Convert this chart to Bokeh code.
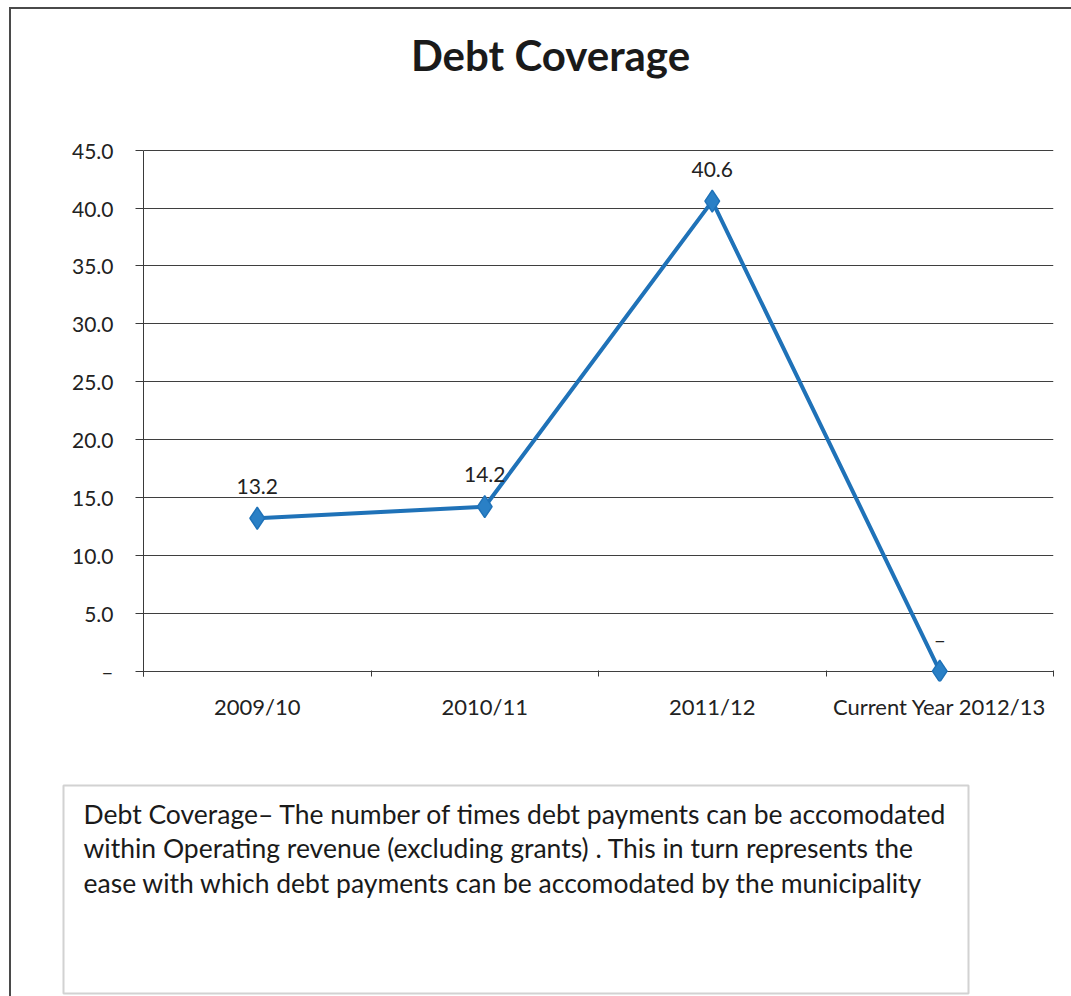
from bokeh.plotting import figure
from bokeh.layouts import column
from bokeh.models import Range1d, FixedTicker, Label, LabelSet, ColumnDataSource
from bokeh.core.properties import value
from bokeh.embed import file_html
from bokeh.resources import INLINE

# ---- data ----
categories = ["2009/10", "2010/11", "2011/12", "Current Year 2012/13"]
debt_coverage = [13.2, 14.2, 40.6, 0.0]
point_labels = ["13.2", "14.2", "40.6", "\u2013"]
y_ticks = [0, 5, 10, 15, 20, 25, 30, 35, 40, 45]
y_tick_labels = ["\u2013", "5.0", "10.0", "15.0", "20.0", "25.0", "30.0", "35.0", "40.0", "45.0"]
title_text = "Debt Coverage"
note_lines = [
    "Debt Coverage\u2013  The number of times debt payments can be accomodated",
    "within Operating revenue (excluding grants) .  This in turn represents the",
    "ease with which debt payments can be accomodated by the municipality",
]

FONT = "Lato"
W, H = 1071, 996
OX, OY = 11, 9            # page offset of the content (margin + border)
SPLIT = 760               # page y where the note figure starts

# chart frame in page pixels (top extended upward so the title sits inside it)
FL, FR, FT, FB = 143, 1053, 20, 681


def sx(px):
    return px - FL


def sy(py):
    return FB - py


x_pos = [i + 0.5 for i in range(len(categories))]
src = ColumnDataSource(dict(x=x_pos, y=debt_coverage, lab=point_labels))

PW, PH = W - OX, SPLIT - OY
p = figure(width=PW, height=PH, output_backend="svg", toolbar_location=None,
           x_range=Range1d(0, len(categories)), y_range=Range1d(-0.9, 56.2),
           min_border_left=FL - OX, min_border_right=PW - (FR - OX),
           min_border_top=FT - OY, min_border_bottom=PH - (FB - OY),
           background_fill_color="white", border_fill_color="white",
           outline_line_color=None, frame_align=False)

# y axis
p.yaxis.ticker = FixedTicker(ticks=y_ticks)
p.yaxis.major_label_overrides = {t: l for t, l in zip(y_ticks, y_tick_labels)}
p.yaxis.bounds = (-0.5, 45)
p.yaxis.axis_line_color = "#3a3a3a"
p.yaxis.major_tick_line_color = "#3a3a3a"
p.yaxis.major_tick_out = 8
p.yaxis.major_tick_in = 0
p.yaxis.minor_tick_line_color = None
p.yaxis.major_label_standoff = 22
p.yaxis.major_label_text_font = FONT
p.yaxis.major_label_text_font_size = "21px"
p.yaxis.major_label_text_color = "#222222"

# x axis: labels at category centers, tick marks between categories
p.xaxis.ticker = FixedTicker(ticks=x_pos, minor_ticks=list(range(len(categories) + 1)))
p.xaxis.major_label_overrides = {x: c for x, c in zip(x_pos, categories)}
p.xaxis.axis_line_color = None
p.xaxis.major_tick_line_color = None
p.xaxis.major_tick_out = 0
p.xaxis.major_tick_in = 0
p.xaxis.minor_tick_line_color = "#3a3a3a"
p.xaxis.minor_tick_in = 11
p.xaxis.minor_tick_out = -5
p.xaxis.major_label_standoff = 11
p.xaxis.major_label_text_font = FONT
p.xaxis.major_label_text_font_size = "22px"
p.xaxis.major_label_text_color = "#222222"

p.xgrid.grid_line_color = None
p.ygrid.ticker = FixedTicker(ticks=y_ticks)
p.ygrid.grid_line_color = "#3f3f3f"
p.ygrid.grid_line_width = 1

# series
p.line("x", "y", source=src, line_color="#1F72B8", line_width=4)
p.scatter("x", "y", source=src, marker="diamond", size=22,
          fill_color="#2A80C6", line_color="#1F72B8", line_width=1.5)
p.add_layout(LabelSet(x="x", y="y", text="lab", source=src, y_offset=32,
                      text_align="center", text_baseline="middle",
                      text_font=value(FONT), text_font_size="21px",
                      text_color="#222222"))

# title (inside the extended frame)
p.add_layout(Label(x=sx(550), y=sy(54), x_units="screen", y_units="screen", text=title_text,
                   text_align="center", text_baseline="middle",
                   text_font=FONT, text_font_style="bold",
                   text_font_size="42px", text_color="#1a1a1a"))

# ---- note box (its frame outline is the box) ----
BL, BR, BT, BB = 63, 968, 785, 993
QW, QH = W - OX, H - SPLIT
q = figure(width=QW, height=QH, output_backend="svg", toolbar_location=None,
           x_range=Range1d(0, 1), y_range=Range1d(0, 1),
           x_axis_type=None, y_axis_type=None,
           min_border_left=BL - OX, min_border_right=QW - (BR - OX),
           min_border_top=BT - SPLIT, min_border_bottom=QH - (BB - SPLIT),
           background_fill_color="white", border_fill_color="white",
           outline_line_color="#d2d2d2", outline_line_width=2, frame_align=False)
q.xgrid.visible = False
q.ygrid.visible = False
for i, line in enumerate(note_lines):
    q.add_layout(Label(x=83 - BL, y=BB - (813 + i * 34.5), x_units="screen", y_units="screen",
                       text=line, text_align="left", text_baseline="middle",
                       text_font=FONT, text_font_size="26.5px",
                       text_color="#1a1a1a"))

page = column(p, q, spacing=0, margin=(7, 0, 0, 9),
              styles={"border-left": "2px solid #4a4a4a", "border-top": "2px solid #4a4a4a",
                      "border-right": "none", "border-bottom": "none",
                      "box-sizing": "content-box", "outline": "none"})

open("out.html", "w").write(file_html(page, INLINE))
